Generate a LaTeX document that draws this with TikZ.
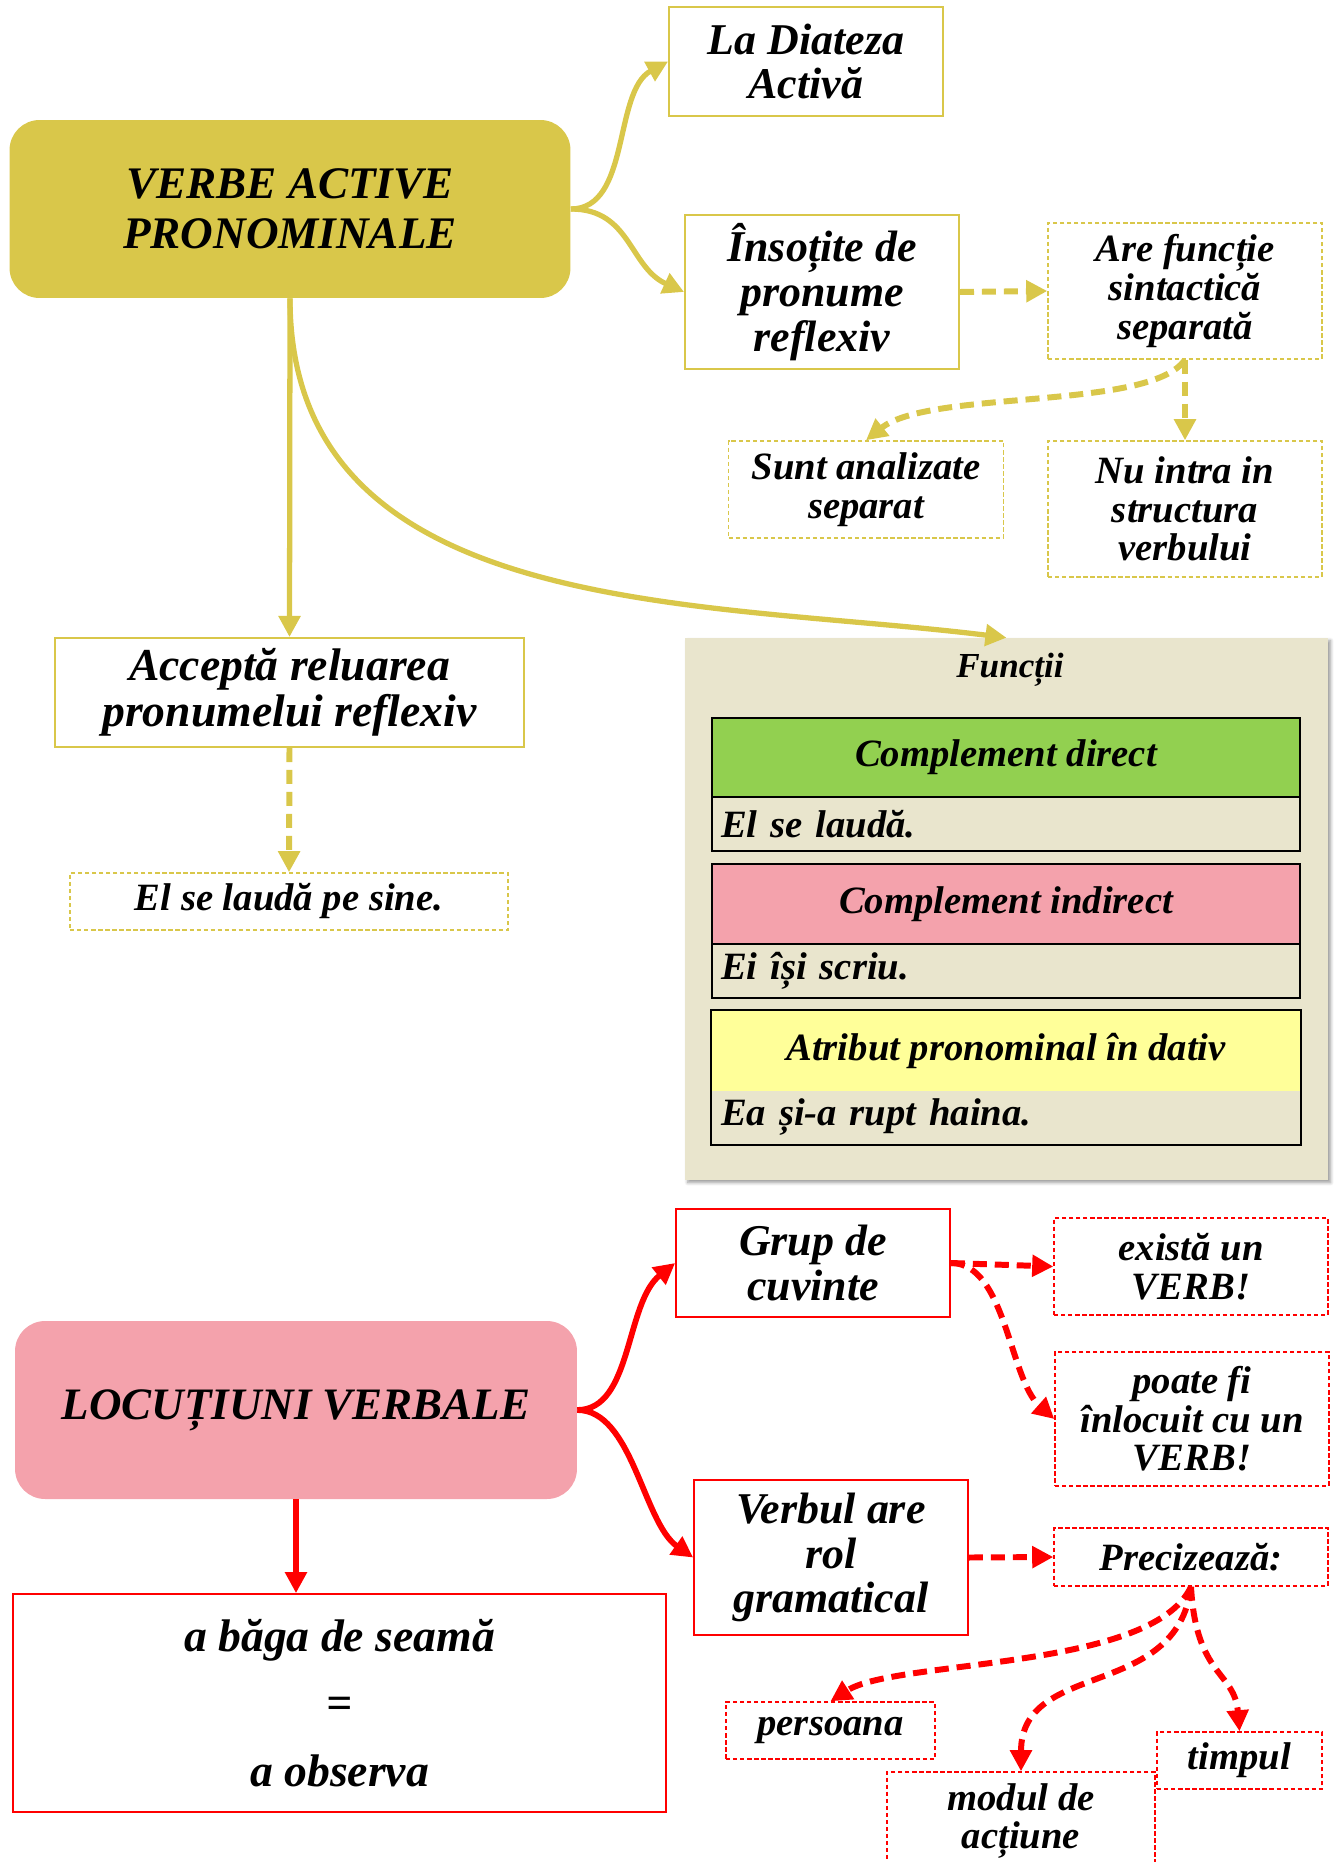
\documentclass[tikz,border=0pt]{standalone}
\usepackage{fontspec}
\setmainfont{Liberation Serif}
\usetikzlibrary{arrows.meta, calc, shadows.blur}

\definecolor{olivemain}{RGB}{217,199,74}
\definecolor{pinkbox}{RGB}{244,162,172}
\definecolor{greenhead}{RGB}{146,208,80}
\definecolor{paleyellow}{RGB}{255,255,153}
\definecolor{beigepanel}{RGB}{233,229,205}

\begin{document}
\begin{tikzpicture}[x=0.02cm, y=-0.02cm,
	big text/.style={font=\bfseries\itshape\fontsize{25}{25.5}\selectfont},
	small text/.style={font=\bfseries\itshape\fontsize{22}{22}\selectfont},
	olive box/.style={draw=olivemain, line width=1.1pt, fill=white, align=center, inner sep=0pt},
	olive dash box/.style={olive box, line width=0.85pt, dash pattern=on 2.5pt off 1.5pt},
	red box/.style={draw=red, line width=1pt, fill=white, align=center, inner sep=0pt},
	red dash box/.style={red box, line width=0.85pt, dash pattern=on 2.5pt off 1.5pt},
	olive arrow/.style={olivemain, line width=3pt, -{Triangle[length=12pt, width=12pt]}},
	olive dash arrow/.style={olive arrow, line width=3.4pt, dash pattern=on 8pt off 4.5pt},
	red arrow/.style={red, line width=3.3pt, -{Triangle[length=12pt, width=12pt]}},
	red dash arrow/.style={red arrow, line width=3.4pt, dash pattern=on 8pt off 4.5pt},
	table head/.style={draw=black, line width=1.4pt, minimum width=11.76cm, align=center,
		font=\bfseries\itshape\fontsize{22}{22}\selectfont},
	table row/.style={draw=black, line width=1.4pt, fill=beigepanel, text width=11.4cm,
		inner xsep=0.18cm, align=left, font=\bfseries\itshape\fontsize{22}{22}\selectfont},
	]
	
	\useasboundingbox (0,0) rectangle (1334,1862);
	\clip (0,0) rectangle (1334,1862);
	
	% VERBE ACTIVE PRONOMINALE
	\node[fill=olivemain, rounded corners=0.6cm, minimum width=11.22cm, minimum height=3.56cm,
		align=center, font=\bfseries\itshape\fontsize{25.7}{28.5}\selectfont] (verbe) at (290,209)
		{VERBE ACTIVE\\PRONOMINALE};
	
	\node[olive box, big text, minimum width=5.48cm, minimum height=2.18cm] (diateza) at (806,61.5)
		{La Diateza\\Activă};
	\node[olive box, big text, minimum width=5.48cm, minimum height=3.08cm] (insotite) at (822,292)
		{Însoțite de\\pronume\\reflexiv};
	\node[olive dash box, small text, minimum width=5.48cm, minimum height=2.72cm] (functie) at (1185,291)
		{Are funcție\\sintactică\\separată};
	\node[olive dash box, small text, minimum width=5.5cm, minimum height=1.94cm] (analizate) at (866,489.5)
		{Sunt analizate\\separat};
	\node[olive dash box, small text, minimum width=5.48cm, minimum height=2.72cm] (nuintra) at (1185,509)
		{Nu intra in\\structura\\verbului};
	\node[olive box, font=\bfseries\itshape\fontsize{26}{26.5}\selectfont, minimum width=9.38cm,
		minimum height=2.18cm] (accepta) at (289.5,692.5)
		{Acceptă reluarea\\pronumelui reflexiv};
	\node[olive dash box, small text, minimum width=8.76cm, minimum height=1.14cm] (laudasine) at (289,901.5)
		{El se laudă pe sine.};
	
	% Functii panel
	\node[fill=beigepanel, minimum width=12.86cm, minimum height=10.84cm,
		blur shadow={shadow xshift=1.5pt, shadow yshift=-1.5pt, shadow blur steps=6}] (functii) at (1006.5,909) {};
	\node[font=\bfseries\itshape\fontsize{20}{20}\selectfont] (functiititle) at (1010,670) {Funcții};
	
	\node[table head, fill=greenhead, minimum height=1.58cm] (cdhead) at (1006,757.5) {Complement direct};
	\node[table row, minimum height=1.08cm] (cdrow) at (1006,824) {El se laudă.};
	\node[table head, fill=pinkbox, minimum height=1.6cm] (cihead) at (1006,904) {Complement indirect};
	\node[table row, minimum height=1.08cm] (cirow) at (1006,971) {Ei își scriu.};
	\node[table head, draw=none, fill=paleyellow, minimum height=1.6cm] (aphead) at (1006,1051) {Atribut pronominal în dativ};
	\node[table row, draw=none, minimum height=1.06cm] (aprow) at (1006,1117.5) {Ea și-a rupt haina.};
	\draw[black, line width=1.4pt] (aphead.north west) rectangle (aprow.south east);
	
	% LOCUTIUNI VERBALE
	\node[fill=pinkbox, rounded corners=0.6cm, minimum width=11.24cm, minimum height=3.56cm,
		font=\bfseries\itshape\fontsize{25.6}{26}\selectfont] (locutiuni) at (296,1410) {LOCUȚIUNI VERBALE};
	\node[red box, minimum width=13.06cm, minimum height=4.36cm,
		font=\bfseries\itshape\fontsize{26}{38.5}\selectfont] (baga) at (339.5,1703)
		{a băga de seamă\\=\\a observa};
	
	\node[red box, big text, minimum width=5.48cm, minimum height=2.16cm] (grup) at (813,1263)
		{Grup de\\cuvinte};
	\node[red dash box, small text, minimum width=5.48cm, minimum height=1.94cm] (exista) at (1191,1266.5)
		{există un\\VERB!};
	\node[red dash box, small text, minimum width=5.48cm, minimum height=2.68cm] (poate) at (1192,1419)
		{poate fi\\înlocuit cu un\\VERB!};
	\node[red box, big text, minimum width=5.48cm, minimum height=3.1cm] (verbul) at (831,1557.5)
		{Verbul are\\rol\\gramatical};
	\node[red dash box, small text, minimum width=5.48cm, minimum height=1.16cm] (precizeaza) at (1191,1557)
		{Precizează:};
	\node[red dash box, small text, minimum width=4.18cm, minimum height=1.14cm] (persoana) at (830.5,1730.5)
		{persoana};
	\node[red dash box, small text, minimum width=5.36cm, minimum height=1.96cm] (modul) at (1021,1821)
		{modul de\\acțiune};
	\node[red dash box, small text, minimum width=3.3cm, minimum height=1.14cm] (timpul) at (1239.5,1760.5)
		{timpul};
	
	% top connectors
	\draw[olive arrow] (verbe.east) .. controls +(60,0) and +(-55,30) .. (diateza.west);
	\draw[olive arrow] (verbe.east) .. controls +(60,0) and +(-55,-25) .. (insotite.west);
	\draw[olive arrow] (verbe.south) -- (accepta.north);
	\draw[olive arrow] (verbe.south) .. controls +(0,322) and +(-307,-38) .. (functii.north);
	\draw[olive dash arrow] (insotite.east) -- (functie.west);
	\draw[olive dash arrow] (functie.south) .. controls +(-35,51) and +(64,-51) .. (analizate.north);
	\draw[olive dash arrow] (functie.south) -- (nuintra.north);
	\draw[olive dash arrow] (accepta.south) -- (laudasine.north);
	
	% bottom connectors
	\draw[red arrow] (locutiuni.east) .. controls +(55,0) and +(-50,40) .. (grup.west);
	\draw[red arrow] (locutiuni.east) .. controls +(55,0) and +(-50,-35) .. (verbul.west);
	\draw[red arrow] (locutiuni.south) -- (locutiuni.south |- baga.north);
	\draw[red dash arrow] (grup.east) -- (exista.west);
	\draw[red dash arrow] (grup.east) .. controls +(55,0) and +(-45,-40) .. (poate.west);
	\draw[red dash arrow] (verbul.east) -- (precizeaza.west);
	\draw[red dash arrow] (precizeaza.south) .. controls +(-39,84) and +(65,-42) .. (persoana.north);
	\draw[red dash arrow] (precizeaza.south) .. controls +(-14,114) and +(0,-112) .. (modul.north);
	\draw[red dash arrow] (precizeaza.south) .. controls +(5,90) and +(-5,-60) .. (timpul.north);
	
\end{tikzpicture}
\end{document}
